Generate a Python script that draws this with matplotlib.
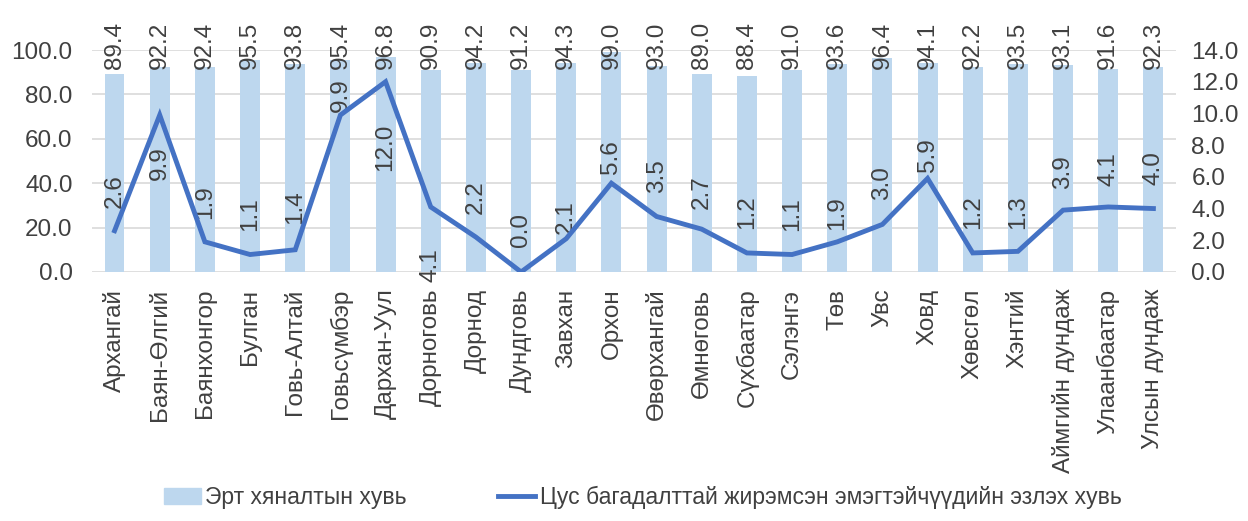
import matplotlib
matplotlib.use('Agg')
import matplotlib.pyplot as plt
from matplotlib.patches import Patch
from matplotlib.lines import Line2D

plt.rcParams['font.family'] = ['Liberation Sans', 'DejaVu Sans']

regions = ['Архангай', 'Баян-Өлгий', 'Баянхонгор', 'Булган', 'Говь-Алтай',
           'Говьсүмбэр', 'Дархан-Уул', 'Дорноговь', 'Дорнод', 'Дундговь',
           'Завхан', 'Орхон', 'Өвөрхангай', 'Өмнөговь', 'Сүхбаатар', 'Сэлэнгэ',
           'Төв', 'Увс', 'Ховд', 'Хөвсгөл', 'Хэнтий', 'Аймгийн дундаж',
           'Улаанбаатар', 'Улсын дундаж']
early_pct = [89.4, 92.2, 92.4, 95.5, 93.8, 95.4, 96.8, 90.9, 94.2, 91.2, 94.3, 99.0,
             93.0, 89.0, 88.4, 91.0, 93.6, 96.4, 94.1, 92.2, 93.5, 93.1, 91.6, 92.3]
anemia_pct = [2.6, 9.9, 1.9, 1.1, 1.4, 9.9, 12.0, 4.1, 2.2, 0.0, 2.1, 5.6,
              3.5, 2.7, 1.2, 1.1, 1.9, 3.0, 5.9, 1.2, 1.3, 3.9, 4.1, 4.0]

# label nudges (pixels, + is up) - the original has them moved around by hand
lbl_off = [40, -48, 40, 40, 43, 20, -66, -58, 40, 42, 22, 26,
           40, 37, 41, 40, 29, 41, 23, 41, 39, 38, 38, 40]

txt = '#404040'
bar_c = '#BDD7EE'
line_c = '#4472C4'
fs = 17.5

fig = plt.figure(figsize=(12.48, 5.21), dpi=100)
ax = fig.add_axes([0.0737, 0.478, 0.8686, 0.426])
ax2 = ax.twinx()

x = range(len(regions))
ax.bar(x, early_pct, width=0.44, color=bar_c, zorder=2)
ax.set_ylim(0, 100)
ax.set_xlim(-0.5, len(regions) - 0.5)
ax.set_yticks(range(0, 101, 20))
ax.set_yticklabels([f'{v:.1f}' for v in range(0, 101, 20)])
ax.yaxis.grid(True, color='#D9D9D9', lw=1.2, zorder=0)
ax.set_axisbelow(True)
ax.set_xticks(list(x))
ax.set_xticklabels(regions, rotation=90, va='top', ha='center')

for i, v in enumerate(early_pct):
    ax.text(i, 102, f'{v:.1f}', rotation=90, ha='center', va='center',
            fontsize=fs, color=txt, clip_on=False, zorder=5)

ax2.plot(x, anemia_pct, color=line_c, lw=3.5, solid_joinstyle='miter', zorder=4)
ax2.set_ylim(0, 14)
ax2.set_yticks(range(0, 15, 2))
ax2.set_yticklabels([f'{v:.1f}' for v in range(0, 15, 2)])
for i, v in enumerate(anemia_pct):
    ax2.annotate(f'{v:.1f}', (i, v), xytext=(0, lbl_off[i]), textcoords='offset pixels',
                 rotation=90, ha='center', va='center', fontsize=fs, color=txt,
                 annotation_clip=False)

for a in (ax, ax2):
    for s in a.spines.values():
        s.set_visible(False)
    a.tick_params(length=0, labelsize=fs, colors=txt)
ax.tick_params(axis='y', pad=14)
ax.tick_params(axis='x', pad=12)
ax2.tick_params(axis='y', pad=11)

handles = [Patch(color=bar_c), Line2D([], [], color=line_c, lw=3.5)]
fig.legend(handles, ['Эрт хяналтын хувь', 'Цус багадалттай жирэмсэн эмэгтэйчүүдийн эзлэх хувь'],
           loc='center', bbox_to_anchor=(0.515, 0.045), ncol=2, frameon=False,
           fontsize=16.5, labelcolor=txt, handlelength=1.6, handletextpad=0.2,
           columnspacing=4.0)

fig.savefig('out.png', dpi=100)
